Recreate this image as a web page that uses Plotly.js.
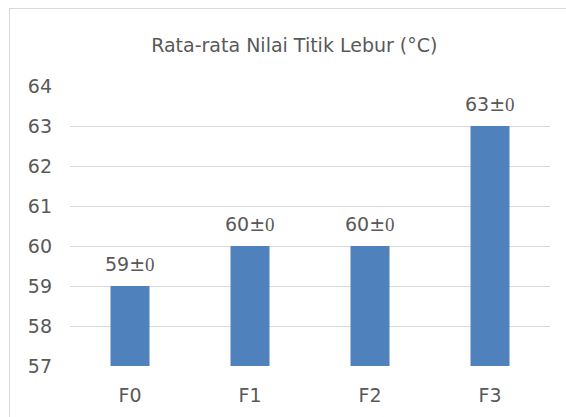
<!DOCTYPE html>
<html>
<head>
<meta charset="utf-8">
<script src="https://cdn.plot.ly/plotly-3.0.1.min.js"></script>
<style>
html,body{margin:0;padding:0;background:#fff;}
#wrap{position:relative;width:566px;height:417px;overflow:hidden;}
#frame{position:absolute;left:9px;top:8px;width:600px;height:500px;border:1px solid #d9d9d9;pointer-events:none;}
#chart{position:absolute;left:0;top:0;width:566px;height:417px;}
</style>
</head>
<body>
<div id="wrap"><div id="chart"></div><div id="frame"></div></div>
<script>
const categories = ['F0', 'F1', 'F2', 'F3'];
const values = [59, 60, 60, 63];
const sd = [0, 0, 0, 0];
const yTicks = [57, 58, 59, 60, 61, 62, 63, 64];

const FONT = '"DejaVu Sans", sans-serif';
const TXT = '#595959';

const labels = values.map((v, i) => v + '±<span style="font-family:\'Liberation Serif\', serif">' + sd[i] + '</span>');

const trace = {
  type: 'bar',
  x: categories,
  y: values,
  marker: {color: '#4F81BD'},
  hoverinfo: 'none'
};

const annotations = categories.map((c, i) => ({
  x: c, y: values[i], xref: 'x', yref: 'y',
  text: labels[i], showarrow: false,
  yanchor: 'bottom', yshift: 9,
  font: {family: FONT, size: 19, color: TXT}
}));

const layout = {
  width: 566, height: 417,
  margin: {l: 70, r: 16, t: 86, b: 51},
  paper_bgcolor: '#fff', plot_bgcolor: '#fff',
  bargap: 0.675,
  showlegend: false,
  title: {text: 'Rata-rata Nilai Titik Lebur (°C)', x: 0.52, xanchor: 'center', y: 0.892, yanchor: 'middle',
          font: {family: FONT, size: 19, color: TXT}},
  xaxis: {
    type: 'category', showgrid: false, zeroline: false,
    showline: false, ticks: '',
    ticklabelstandoff: 16,
    tickfont: {family: FONT, size: 19, color: TXT}
  },
  yaxis: {
    range: [57, 64], tickvals: yTicks, ticktext: yTicks.map(String),
    showgrid: true, gridcolor: '#d9d9d9', gridwidth: 1,
    zeroline: false, showline: false, ticks: '',
    ticklabelstandoff: 17,
    tickfont: {family: FONT, size: 19, color: TXT}
  },
  annotations: annotations
};

Plotly.newPlot('chart', [trace], layout, {displayModeBar: false, staticPlot: true});
</script>
</body>
</html>
